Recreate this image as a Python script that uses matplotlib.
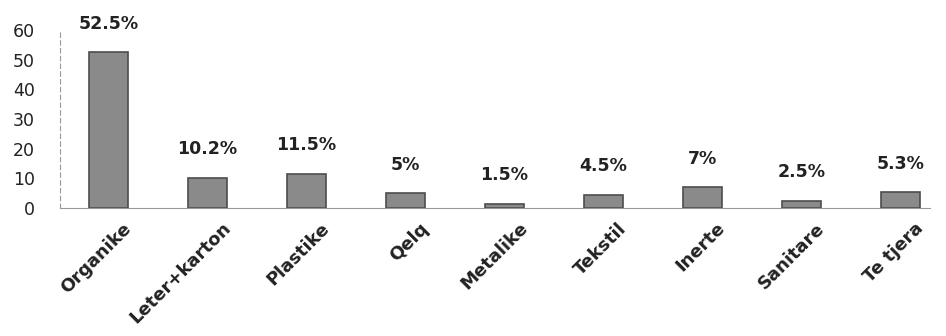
import numpy as np
import matplotlib
matplotlib.use("Agg")
import matplotlib.pyplot as plt
import matplotlib.transforms as mtransforms

# waste composition (%)
categories = ["Organike", "Leter+karton", "Plastike", "Qelq", "Metalike",
              "Tekstil", "Inerte", "Sanitare", "Te tjera"]
values = [52.5, 10.2, 11.5, 5, 1.5, 4.5, 7, 2.5, 5.3]
labels = ["52.5%", "10.2%", "11.5%", "5%", "1.5%", "4.5%", "7%", "2.5%", "5.3%"]
yticks = [0, 10, 20, 30, 40, 50, 60]

fig = plt.figure(figsize=(9.46, 3.36), dpi=100)
ax = fig.add_axes([60 / 946, 1 - 208 / 336, 870 / 946, 178 / 336])

x = np.arange(len(categories))
ax.bar(x, values, width=0.4, color="#8a8a8a", edgecolor="#4d4d4d", linewidth=1.2)

for xi, v, lab in zip(x, values, labels):
    ax.annotate(lab, (xi, v), xytext=(0, 14), textcoords="offset points",
                ha="center", va="bottom", fontsize=12.5, fontweight="bold",
                color="#222222")

ax.set_xlim(-0.49, 8.3)
ax.set_ylim(0, 60)
ax.set_yticks(yticks)
ax.set_yticklabels([str(t) for t in yticks], fontsize=12.5, color="#222222")
ax.set_xticks(x)
ax.set_xticklabels(categories, rotation=45, ha="right", rotation_mode="anchor",
                   fontsize=13, fontweight="bold", color="#222222")
ax.tick_params(axis="both", length=0)
ax.tick_params(axis="y", pad=18)
ax.tick_params(axis="x", pad=8)

# shift the slanted category labels a little to the right, as in the original
shift = mtransforms.ScaledTranslation(14 / 100, 0, fig.dpi_scale_trans)
for t in ax.get_xticklabels():
    t.set_transform(t.get_transform() + shift)

for s in ["top", "right"]:
    ax.spines[s].set_visible(False)
ax.spines["left"].set_linestyle((0, (4, 3)))
ax.spines["left"].set_color("#999999")
ax.spines["bottom"].set_color("#999999")
ax.set_facecolor("white")

fig.savefig("out.png", dpi=100)
